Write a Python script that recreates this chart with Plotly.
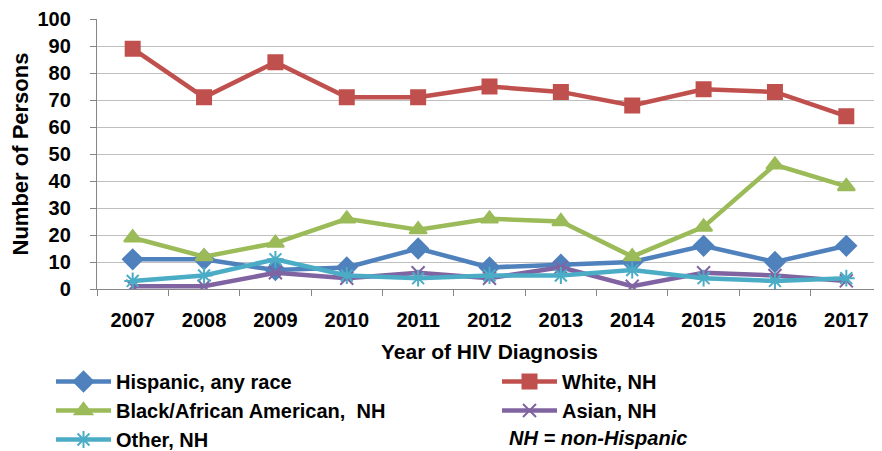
import plotly.graph_objects as go

years = ["2007", "2008", "2009", "2010", "2011", "2012", "2013", "2014", "2015", "2016", "2017"]
hispanic = [11, 11, 7, 8, 15, 8, 9, 10, 16, 10, 16]
white = [89, 71, 84, 71, 71, 75, 73, 68, 74, 73, 64]
black = [19, 12, 17, 26, 22, 26, 25, 12, 23, 46, 38]
asian = [1, 1, 6, 4, 6, 4, 8, 1, 6, 5, 3]
other = [3, 5, 11, 5, 4, 5, 5, 7, 4, 3, 4]

y_ticks = [0, 10, 20, 30, 40, 50, 60, 70, 80, 90, 100]

FONT = "Liberation Sans, Arial, sans-serif"

series = [
    ("Hispanic, any race", hispanic, "#4F81BD", "diamond", 15, "legend"),
    ("White, NH", white, "#C0504D", "square", 14, "legend2"),
    ("Black/African American,  NH", black, "#9BBB59", "triangle-up", 15, "legend"),
    ("Asian, NH", asian, "#8064A2", "x-thin-open", 13, "legend2"),
    ("Other, NH", other, "#4BACC6", "asterisk-open", 14, "legend"),
]

fig = go.Figure()
for name, vals, color, sym, size, lg in series:
    fig.add_trace(go.Scatter(
        x=years, y=vals, name=name, mode="lines+markers",
        line=dict(color=color, width=4.5),
        marker=dict(symbol=sym, size=size, color=color,
                    line=dict(color=color, width=2)),
        legend=lg,
    ))

# page body has an 8px margin, so the figure is laid out 8px smaller
OFF = 8
W, H = 882 - OFF, 451 - OFF
# plot area (in screen pixels): left 97, right 882, top 19, bottom 289
L, R, T, B = 97 - OFF, 882 - OFF, 19 - OFF, 289 - OFF
def px(x):
    return (x - OFF - L) / (R - L)
def py(y):
    return (B - (y - OFF)) / (B - T)

legend_common = dict(
    font=dict(family=FONT, size=20, color="black", weight="bold"),
    bgcolor="rgba(0,0,0,0)",
    xanchor="left", yanchor="top",
    orientation="v",
    tracegroupgap=0,
    itemwidth=55,
)

fig.update_layout(
    width=W, height=H,
    margin=dict(l=L, r=W - R, t=T, b=H - B, autoexpand=False),
    paper_bgcolor="white", plot_bgcolor="white",
    font=dict(family=FONT, color="black"),
    showlegend=True,
    legend=dict(x=px(51), y=py(362), **legend_common),
    legend2=dict(x=px(497), y=py(362), **legend_common),
    xaxis=dict(
        type="category",
        range=[-0.5, 10.5],
        showgrid=False, automargin=False,
        showline=True, linecolor="#868686", linewidth=1.3,
        ticks="outside", tickson="boundaries", ticklen=6, tickcolor="#868686", tickwidth=1.3,
        tickfont=dict(family=FONT, size=20, color="black", weight="bold"),
        ticklabelstandoff=13,
        title=dict(text="Year of HIV Diagnosis", standoff=14,
                   font=dict(family=FONT, size=21, color="black", weight="bold")),
    ),
    yaxis=dict(
        range=[0, 100],
        tickvals=y_ticks, automargin=False,
        showgrid=True, gridcolor="#BFBFBF", gridwidth=1.3,
        showline=True, linecolor="#868686", linewidth=1.3,
        ticks="outside", ticklen=6, tickcolor="#868686", tickwidth=1.3,
        tickfont=dict(family=FONT, size=20, color="black", weight="bold"),
        ticklabelstandoff=15,
        zeroline=False,
        title=dict(text="Number of Persons", standoff=8,
                   font=dict(family=FONT, size=22, color="black", weight="bold")),
    ),
    annotations=[dict(
        text="<b><i>NH = non-Hispanic</i></b>",
        xref="paper", yref="paper",
        x=px(507), y=py(438),
        xanchor="left", yanchor="middle",
        showarrow=False,
        font=dict(family=FONT, size=20, color="black"),
    )],
)

fig.write_html("out.html")
